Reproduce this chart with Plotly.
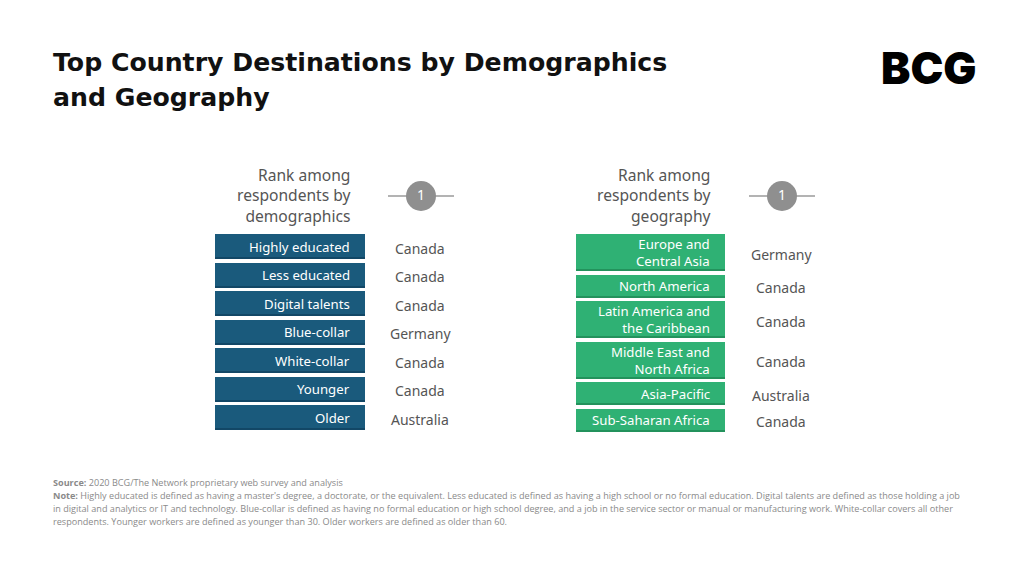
import plotly.graph_objects as go

# ---------------- data ----------------
title_lines = ["Top Country Destinations by Demographics", "and Geography"]

demo_header = ["Rank among", "respondents by", "demographics"]
demo_groups = ["Highly educated", "Less educated", "Digital talents", "Blue-collar",
               "White-collar", "Younger", "Older"]
demo_top_country = ["Canada", "Canada", "Canada", "Germany", "Canada", "Canada", "Australia"]

geo_header = ["Rank among", "respondents by", "geography"]
geo_groups = ["Europe and<br>Central Asia", "North America", "Latin America and<br>the Caribbean",
              "Middle East and<br>North Africa", "Asia-Pacific", "Sub-Saharan Africa"]
geo_top_country = ["Germany", "Canada", "Canada", "Canada", "Australia", "Canada"]

rank_label = "1"

source_text = "<b>Source:</b> 2020 BCG/The Network proprietary web survey and analysis"
note_lines = [
    "<b>Note:</b> Highly educated is defined as having a master's degree, a doctorate, or the equivalent. Less educated is defined as having a high school or no formal education. Digital talents are defined as those holding a job",
    "in digital and analytics or IT and technology. Blue-collar is defined as having no formal education or high school degree, and a job in the service sector or manual or manufacturing work. White-collar covers all other",
    "respondents. Younger workers are defined as younger than 30. Older workers are defined as older than 60.",
]

# ---------------- styles ----------------
W, H = 1024, 576
OFF = 8  # page body margin compensation
BLUE, BLUE_DARK = "#1a5a7c", "#124766"
GREEN, GREEN_DARK = "#2fb174", "#23925c"
GREY_TXT = "#555555"
BODY_FONT = "Noto Sans"

fig = go.Figure()
annotations = []


def panel(groups, countries, header, x0, x1, label_right, country_x, circle_x,
          one_h, two_h, gap, top, color, dark):
    centers, heights = [], []
    y = top
    for g in groups:
        h = two_h if "<br>" in g else one_h
        centers.append(y + h / 2)
        heights.append(h)
        y += h + gap
    # main bars
    fig.add_trace(go.Bar(orientation="h", y=centers, x=[x1 - x0] * len(groups), base=x0,
                         width=heights, marker=dict(color=color, line=dict(width=0)),
                         hoverinfo="skip", showlegend=False))
    # bottom shade
    fig.add_trace(go.Bar(orientation="h", y=[c + h / 2 - 1 for c, h in zip(centers, heights)],
                         x=[x1 - x0] * len(groups), base=x0, width=[2] * len(groups),
                         marker=dict(color=dark, line=dict(width=0)),
                         hoverinfo="skip", showlegend=False))
    for g, c, country in zip(groups, centers, countries):
        annotations.append(dict(x=label_right, y=c, text=g, xanchor="right", yanchor="middle",
                                align="right", showarrow=False,
                                font=dict(family=BODY_FONT, size=13.2, color="white")))
        annotations.append(dict(x=country_x, y=c + 1.5, text=country, xanchor="center",
                                yanchor="middle", showarrow=False,
                                font=dict(family=BODY_FONT, size=14, color=GREY_TXT)))
    # header
    annotations.append(dict(x=label_right + 1, y=195, text="<br>".join(header), xanchor="right",
                            yanchor="middle", align="right", showarrow=False,
                            font=dict(family=BODY_FONT, size=15.6, color=GREY_TXT)))
    # rank marker: line + circle
    fig.add_trace(go.Scatter(x=[circle_x - 33, circle_x + 33], y=[196, 196], mode="lines",
                             line=dict(color="#9a9a9a", width=1.5), hoverinfo="skip",
                             showlegend=False))
    fig.add_trace(go.Scatter(x=[circle_x], y=[196], mode="markers+text", text=[rank_label],
                             textposition="middle center",
                             textfont=dict(family=BODY_FONT, size=14, color="white"),
                             marker=dict(size=30, color="#8f8f8f", line=dict(width=0)),
                             hoverinfo="skip", showlegend=False))


panel(demo_groups, demo_top_country, demo_header, 215, 365, 352, 420, 421,
      25, 25, 3.5, 234, BLUE, BLUE_DARK)
panel(geo_groups, geo_top_country, geo_header, 576, 725, 712, 781, 782,
      23, 37, 3.5, 234, GREEN, GREEN_DARK)

# title
for i, t in enumerate(title_lines):
    annotations.append(dict(x=51, y=62 + i * 35, text=t, xanchor="left", yanchor="middle",
                            showarrow=False,
                            font=dict(family="DejaVu Sans", size=25.2, color="#111111", weight=700)))

# logo
annotations.append(dict(x=928, y=68, text="BCG", xanchor="center", yanchor="middle",
                        showarrow=False,
                        font=dict(family="Inter", size=44, color="#000000", weight=900)))

# footnotes
annotations.append(dict(x=51, y=482, text=source_text, xanchor="left", yanchor="middle",
                        showarrow=False, font=dict(family="Open Sans", size=9.1, color="#8a8a8a")))
for i, t in enumerate(note_lines):
    annotations.append(dict(x=51, y=495 + i * 13.3, text=t, xanchor="left", yanchor="middle",
                            showarrow=False,
                            font=dict(family="Open Sans", size=9.1, color="#8a8a8a")))

fig.update_layout(
    width=W, height=H, margin=dict(l=0, r=0, t=0, b=0),
    paper_bgcolor="white", plot_bgcolor="white",
    barmode="overlay", bargap=0,
    xaxis=dict(range=[OFF, W + OFF], visible=False, fixedrange=True),
    yaxis=dict(range=[H + OFF, OFF], visible=False, fixedrange=True),
    annotations=annotations,
)

fig.write_html("out.html")
